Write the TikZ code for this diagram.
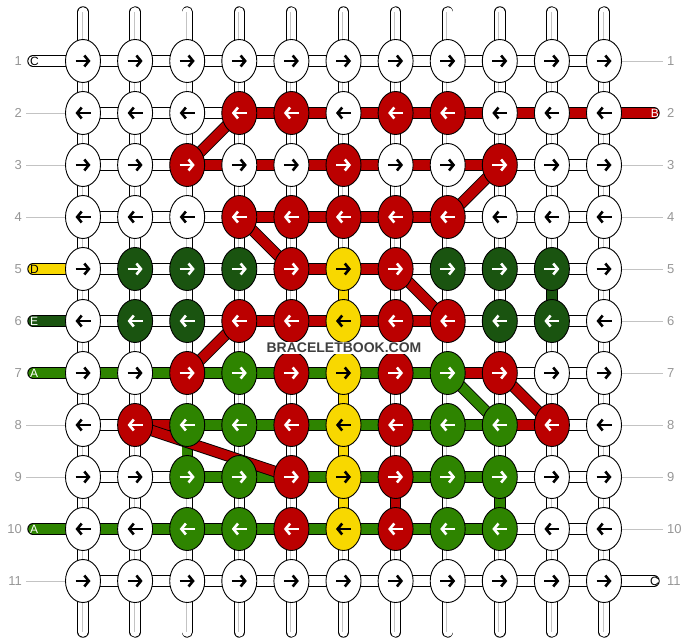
\documentclass[tikz,border=0pt]{standalone}
\usepackage{fontspec}
\setmainfont{Liberation Sans}
\usetikzlibrary{arrows.meta,shapes.geometric}
\pgfdeclarelayer{strings}
\pgfsetlayers{strings,main}
\definecolor{bbred}{RGB}{187,0,0}
\definecolor{bbdark}{RGB}{26,84,16}
\definecolor{bbgreen}{RGB}{46,132,0}
\definecolor{bbyellow}{RGB}{248,216,0}
\definecolor{bbnum}{RGB}{150,150,150}
\definecolor{bbguide}{RGB}{195,195,195}

\begin{document}
\begin{tikzpicture}[x=1pt,y=-1pt]
\tikzset{knot/.style={ellipse,draw=black,line width=0.9pt,minimum width=35pt,minimum height=43pt,inner sep=0pt}}
\tikzset{kW/.style={fill=white},kR/.style={fill=bbred},kD/.style={fill=bbdark},kG/.style={fill=bbgreen},kY/.style={fill=bbyellow}}
\tikzset{aW/.style={black},aR/.style={white},aD/.style={white},aG/.style={white},aY/.style={black}}
\tikzset{arrow1/.style={line width=2.6pt,-{Straight Barb[length=4.5pt,width=11pt]}},arrow0/.style={line width=2.6pt,{Straight Barb[length=4.5pt,width=11pt]}-}}
\tikzset{bar/.style={draw=black,line width=0.9pt,double distance=9.6pt},sW/.style={double=white},sR/.style={double=bbred},sD/.style={double=bbdark},sG/.style={double=bbgreen},sY/.style={double=bbyellow}}
\tikzset{tube/.style={bar,double=white,line cap=round}}
\tikzset{guide/.style={bbguide,line width=0.9pt}}
\tikzset{num/.style={text=bbnum,font=\fontsize{13}{13}\selectfont,inner sep=0pt}}
\tikzset{tag/.style={font=\fontsize{12}{12}\selectfont,inner sep=0pt}}

\useasboundingbox (0,0) rectangle (688,644);

% knots
\foreach \line [count=\r] in {
  {W,W,W,W,W,W,W,W,W,W,W},
  {W,W,W,R,R,W,R,R,W,W,W},
  {W,W,R,W,W,R,W,W,R,W,W},
  {W,W,W,R,R,R,R,R,W,W,W},
  {W,D,D,D,R,Y,R,D,D,D,W},
  {W,D,D,R,R,Y,R,R,D,D,W},
  {W,W,R,G,R,Y,R,G,R,W,W},
  {W,R,G,G,R,Y,R,G,G,R,W},
  {W,W,G,G,R,Y,R,G,G,W,W},
  {W,W,G,G,R,Y,R,G,G,W,W},
  {W,W,W,W,W,W,W,W,W,W,W}}
  \foreach \k [count=\c] in \line {
    \pgfmathtruncatemacro\odd{mod(\r,2)}
    \node[knot,k\k] (k\r-\c) at ({83+(\c-1)*52.1},{61+(\r-1)*52}) {};
    \draw[arrow\odd,a\k] ([xshift=-7.5pt]k\r-\c.center) -- ([xshift=7.5pt]k\r-\c.center);
  };

\foreach \c in {1,...,11} {
  \coordinate (top\c) at ({83+(\c-1)*52.1},12);
  \coordinate (bot\c) at ({83+(\c-1)*52.1},632);
}

\begin{pgfonlayer}{strings}
\foreach \c in {1,...,11} {
  \draw[tube] (top\c) -- (bot\c);
  \draw[bbguide,line width=0.8pt] ([xshift=-1pt]top\c) -- ([xshift=-1pt]bot\c);
}

% rows
\foreach \line [count=\r] in {
  {W,W,W,W,W,W,W,W,W,W},
  {W,W,W,R,R,R,R,R,R,R},
  {W,W,R,R,R,R,R,R,W,W},
  {W,W,W,R,R,R,R,W,W,W},
  {W,W,W,W,R,R,W,W,W,W},
  {W,W,W,R,R,R,R,W,W,W},
  {G,G,G,G,G,G,G,R,W,W},
  {W,R,G,G,G,G,G,G,R,W},
  {W,W,G,G,G,G,G,G,W,W},
  {G,G,G,G,G,G,G,G,W,W},
  {W,W,W,W,W,W,W,W,W,W}}
  \foreach \b [count=\c] in \line {
    \pgfmathtruncatemacro\d{\c+1}
    \draw[bar,s\b] (k\r-\c.center) -- (k\r-\d.center);
  };

% columns
\foreach \r/\c/\b in {5/6/Y,6/6/Y,7/6/Y,8/6/Y,9/6/Y,5/10/D,8/3/G,9/7/R,9/9/G} {
  \pgfmathtruncatemacro\s{\r+1}
  \draw[bar,s\b] (k\r-\c.center) -- (k\s-\c.center);
}

% diagonals
\foreach \a/\e/\b in {3-3/2-4/R,3-9/4-8/R,4-4/5-5/R,5-7/6-8/R,7-3/6-4/R,7-9/8-10/R,8-2/9-5/R,7-8/8-9/G}
  \draw[bar,s\b] (k\a.center) -- (k\e.center);

% ends
\foreach \r/\b in {1/W,5/Y,6/D,7/G,10/G} {
  \coordinate (l\r) at (33,{61+(\r-1)*52});
  \draw[bar,s\b,line cap=round] (l\r) -- (k\r-1.center);
}
\foreach \r/\b in {2/R,11/W} {
  \coordinate (e\r) at (654,{61+(\r-1)*52});
  \draw[bar,s\b,line cap=round] (k\r-11.center) -- (e\r);
}
\end{pgfonlayer}

\foreach \r/\t/\tc in {1/C/black,5/D/black,6/E/white,7/A/white,10/A/white}
  \node[tag,text=\tc,anchor=west] (tl\r) at (30,{61+(\r-1)*52}) {\t};
\foreach \r/\t/\tc in {2/B/white,11/C/black}
  \node[tag,text=\tc,anchor=east] (tr\r) at (659,{61+(\r-1)*52}) {\t};

\foreach \r in {2,3,4,8,9,11} {
  \coordinate (gl\r) at (26,{61+(\r-1)*52});
  \draw[guide] (gl\r) -- (k\r-1);
}
\foreach \r in {1,3,4,5,6,7,8,9,10} {
  \coordinate (gr\r) at (663,{61+(\r-1)*52});
  \draw[guide] (k\r-11) -- (gr\r);
}

\foreach \r in {1,...,11} {
  \node[num,anchor=east] (nl\r) at (22,{61+(\r-1)*52}) {\r};
  \node[num,anchor=west] (nr\r) at (667,{61+(\r-1)*52}) {\r};
}

\node[fill=white,inner sep=1pt,text=black!75,font=\fontsize{14}{14}\selectfont\bfseries] (site) at (344,348) {BRACELETBOOK.COM};

\end{tikzpicture}
\end{document}
